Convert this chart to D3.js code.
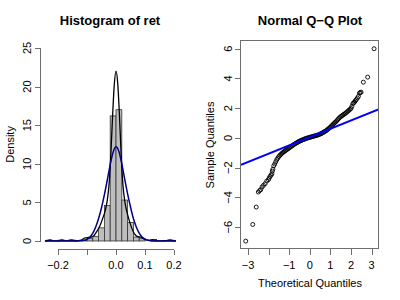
<!DOCTYPE html>
<html>
<head>
<meta charset="utf-8">
<script src="https://cdn.jsdelivr.net/npm/d3@7"></script>
<style>
    body { margin: 0; background: #fff; }
    svg { display: block; font-family: "Liberation Sans", Arial, sans-serif; }
    .axis-line { stroke: #6e6e6e; stroke-width: 1; fill: none; shape-rendering: crispEdges; }
</style>
</head>
<body>
<svg id="vis" width="400" height="300"></svg>
<script>
/**
 * Data
 */
// histogram of ret: bin edges and density per bin
var histBreaks = [-0.24, -0.22, -0.20, -0.18, -0.16, -0.14, -0.12, -0.10, -0.08, -0.06, -0.04, -0.02,
                  0.00, 0.02, 0.04, 0.06, 0.08, 0.10, 0.12, 0.14, 0.16, 0.18, 0.20];
var histDensity = [0.1, 0, 0.1, 0, 0.1, 0, 0.1, 0.3, 0.6, 1.7, 4.6, 16.2,
                   17.0, 5.3, 2.4, 0.5, 0.3, 0, 0.2, 0, 0, 0.1];

// kernel density line (black) as [ret, density]
var kdePoints = [[-0.245, 0], [-0.238, 0.03], [-0.228, 0.13], [-0.215, 0.02], [-0.2, 0.02], [-0.187, 0.13],
    [-0.172, 0.02], [-0.153, 0.13], [-0.138, 0.03], [-0.12, 0.12], [-0.107, 0.4], [-0.095, 0.45],
    [-0.085, 0.5], [-0.075, 0.75], [-0.065, 1.3], [-0.055, 2.0], [-0.046, 2.9], [-0.038, 3.8],
    [-0.03, 5.3], [-0.024, 7.3], [-0.018, 11], [-0.012, 16], [-0.006, 20.2], [0, 22],
    [0.006, 20.4], [0.012, 16.2], [0.018, 11], [0.024, 7.2], [0.03, 5.2], [0.038, 3.7],
    [0.046, 2.6], [0.055, 1.6], [0.065, 0.85], [0.075, 0.55], [0.085, 0.5], [0.095, 0.3],
    [0.105, 0.13], [0.115, 0.08], [0.127, 0.15], [0.14, 0.05], [0.155, 0.02], [0.17, 0.03],
    [0.186, 0.13], [0.2, 0.02], [0.207, 0]];

// fitted normal density (blue) as [ret, density]
var normPoints = [[-0.245, 0], [-0.14, 0], [-0.12, 0.04], [-0.11, 0.1], [-0.1, 0.22], [-0.09, 0.5],
    [-0.08, 1.0], [-0.07, 1.8], [-0.06, 2.9], [-0.05, 4.3], [-0.04, 6.0], [-0.03, 7.9],
    [-0.02, 9.9], [-0.01, 11.5], [0, 12.2], [0.01, 11.6], [0.02, 10.0], [0.03, 8.0],
    [0.04, 6.1], [0.05, 4.4], [0.06, 2.9], [0.07, 1.8], [0.08, 1.0], [0.09, 0.5],
    [0.1, 0.22], [0.11, 0.1], [0.12, 0.04], [0.14, 0], [0.207, 0]];

// normal Q-Q plot as [theoretical quantile, sample quantile]
var qqPoints = [[-3.11, -6.94], [-2.77, -5.82], [-2.6, -4.65], [-2.5, -3.64], [-2.44, -3.55],
    [-2.38, -3.48], [-2.32, -3.3], [-2.25, -3.19], [-2.17, -3.08], [-2.09, -2.9], [-2.01, -2.81],
    [-1.97, -2.7], [-1.93, -2.59], [-1.88, -2.5], [-1.84, -2.41], [-1.82, -2.23], [-1.79, -2.1],
    [-1.75, -1.88], [-1.70, -1.75], [-1.65, -1.60], [-1.60, -1.45], [-1.55, -1.35], [-1.50, -1.25],
    [-1.45, -1.17], [-1.40, -1.10], [-1.35, -1.03], [-1.30, -0.97], [-1.25, -0.92], [-1.20, -0.87],
    [-1.15, -0.82], [-1.10, -0.77], [-1.05, -0.72], [-1.00, -0.67], [-0.95, -0.62], [-0.90, -0.57],
    [-0.85, -0.52], [-0.80, -0.47], [-0.75, -0.42], [-0.70, -0.38], [-0.65, -0.34], [-0.60, -0.30],
    [-0.55, -0.26], [-0.50, -0.22], [-0.45, -0.19], [-0.40, -0.16], [-0.35, -0.13], [-0.30, -0.10],
    [-0.25, -0.07], [-0.20, -0.05], [-0.15, -0.02], [-0.10, 0.00], [-0.05, 0.02], [0.00, 0.04],
    [0.05, 0.06], [0.10, 0.08], [0.15, 0.10], [0.20, 0.12], [0.25, 0.14], [0.30, 0.16],
    [0.35, 0.18], [0.40, 0.20], [0.45, 0.23], [0.50, 0.26], [0.55, 0.29], [0.60, 0.33],
    [0.65, 0.37], [0.70, 0.41], [0.75, 0.45], [0.80, 0.50], [0.85, 0.55], [0.90, 0.61],
    [0.95, 0.67], [1.00, 0.73], [1.05, 0.80], [1.10, 0.87], [1.15, 0.94], [1.20, 1.01],
    [1.25, 1.07], [1.30, 1.14], [1.35, 1.22], [1.40, 1.30], [1.45, 1.37], [1.50, 1.43],
    [1.55, 1.48], [1.60, 1.53], [1.65, 1.58], [1.70, 1.63], [1.75, 1.68], [1.80, 1.74],
    [1.85, 1.80], [1.90, 1.86], [1.95, 1.92], [2.00, 1.98], [2.04, 2.12], [2.09, 2.3],
    [2.13, 2.36], [2.17, 2.41], [2.21, 2.5], [2.25, 2.57], [2.31, 2.68], [2.36, 2.79],
    [2.41, 3.01], [2.45, 3.05], [2.49, 3.08], [2.6, 3.75], [2.81, 4.09], [3.12, 6.0]];

// qqline: [intercept, slope]
var qqLineCoef = [0.06, 0.557];

// tick values and labels (R drops labels that would overlap)
var histXTicks = [-0.2, -0.1, 0.0, 0.1, 0.2];
var histXLabels = ["\u22120.2", "", "0.0", "0.1", "0.2"];
var histYTicks = [0, 5, 10, 15, 20, 25];
var qqXTicks = [-3, -2, -1, 0, 1, 2, 3];
var qqXLabels = ["\u22123", "", "\u22121", "0", "1", "2", "3"];
var qqYTicks = [-6, -4, -2, 0, 2, 4, 6];

var _vis;

window.onload = function(){
    setup();
};

function setup(){
    _vis = d3.select("#vis");
    _vis.append("rect").attr("width", 400).attr("height", 300).attr("fill", "#fff");
    drawHistogram();
    drawQQ();
}

// little helper for R style text
function addText(g, x, y, txt, size, bold, rotate){
    var t = g.append("text")
        .attr("text-anchor", "middle")
        .attr("font-size", size)
        .attr("font-weight", bold ? "bold" : "normal")
        .attr("fill", "#000")
        .text(txt);
    if (rotate) {
        t.attr("transform", "translate(" + x + "," + y + ") rotate(-90)");
    } else {
        t.attr("x", x).attr("y", y);
    }
    return t;
}

/**
 * left panel: histogram + density lines
 */
function drawHistogram(){
    var g = _vis.append("g").attr("class", "hist");

    var x = d3.scaleLinear().domain([-0.2586, 0.2172]).range([41, 179]);
    var y = d3.scaleLinear().domain([-1.04, 25.9]).range([249, 41]);

    var bins = histDensity.map(function(d, i){
        return {x0: histBreaks[i], x1: histBreaks[i + 1], h: d};
    });

    g.selectAll("rect.bar")
        .data(bins)
        .enter()
        .append("rect")
        .attr("class", "bar")
        .attr("x", function(d){ return x(d.x0); })
        .attr("y", function(d){ return y(d.h); })
        .attr("width", function(d){ return x(d.x1) - x(d.x0); })
        .attr("height", function(d){ return y(0) - y(d.h); })
        .attr("fill", "#bebebe")
        .attr("stroke", "#333")
        .attr("stroke-width", 0.8);

    var line = d3.line()
        .x(function(d){ return x(d[0]); })
        .y(function(d){ return y(d[1]); })
        .curve(d3.curveMonotoneX);

    g.append("path")
        .datum(kdePoints)
        .attr("d", line)
        .attr("fill", "none")
        .attr("stroke", "#000")
        .attr("stroke-width", 1.3);

    g.append("path")
        .datum(normPoints)
        .attr("d", line)
        .attr("fill", "none")
        .attr("stroke", "#00008b")
        .attr("stroke-width", 1.5);

    // x axis
    var xa = g.append("g").attr("class", "x axis");
    xa.append("line").attr("class", "axis-line")
        .attr("x1", x(histXTicks[0])).attr("x2", x(histXTicks[histXTicks.length - 1]))
        .attr("y1", 249.5).attr("y2", 249.5);
    histXTicks.forEach(function(v, i){
        var px = Math.round(x(v)) + 0.5;
        xa.append("line").attr("class", "axis-line")
            .attr("x1", px).attr("x2", px).attr("y1", 249.5).attr("y2", 255);
        addText(xa, x(v), 269, histXLabels[i], 11, false, false);
    });

    // y axis
    var ya = g.append("g").attr("class", "y axis");
    ya.append("line").attr("class", "axis-line")
        .attr("x1", 40.5).attr("x2", 40.5)
        .attr("y1", y(histYTicks[0])).attr("y2", y(histYTicks[histYTicks.length - 1]));
    histYTicks.forEach(function(v){
        var py = Math.round(y(v)) + 0.5;
        ya.append("line").attr("class", "axis-line")
            .attr("x1", 35).attr("x2", 40.5).attr("y1", py).attr("y2", py);
        addText(ya, 31, y(v), String(v), 11, false, true);
    });

    addText(g, 110, 25, "Histogram of ret", 13, true, false);
    addText(g, 14, y(12.5), "Density", 11, false, true);
}

/**
 * right panel: normal Q-Q plot
 */
function drawQQ(){
    var g = _vis.append("g").attr("class", "qq");

    var x = d3.scaleLinear().domain([-3.34, 3.36]).range([241, 379]);
    var y = d3.scaleLinear().domain([-7.47, 6.52]).range([249, 41]);

    g.selectAll("circle.pt")
        .data(qqPoints)
        .enter()
        .append("circle")
        .attr("class", "pt")
        .attr("cx", function(d){ return x(d[0]); })
        .attr("cy", function(d){ return y(d[1]); })
        .attr("r", 2)
        .attr("fill", "none")
        .attr("stroke", "#000")
        .attr("stroke-width", 0.9);

    // qqline clipped to the plot box
    g.append("clipPath").attr("id", "qqclip")
        .append("rect").attr("x", 241).attr("y", 41).attr("width", 138).attr("height", 208);
    var xd = x.domain();
    g.append("line")
        .attr("clip-path", "url(#qqclip)")
        .attr("x1", x(xd[0])).attr("y1", y(qqLineCoef[0] + qqLineCoef[1] * xd[0]))
        .attr("x2", x(xd[1])).attr("y2", y(qqLineCoef[0] + qqLineCoef[1] * xd[1]))
        .attr("stroke", "#0000ff")
        .attr("stroke-width", 2);

    // box
    g.append("rect").attr("class", "axis-line")
        .attr("x", 240.5).attr("y", 40.5).attr("width", 138).attr("height", 208);

    // x axis ticks
    qqXTicks.forEach(function(v, i){
        var px = Math.round(x(v)) + 0.5;
        g.append("line").attr("class", "axis-line")
            .attr("x1", px).attr("x2", px).attr("y1", 248.5).attr("y2", 255);
        addText(g, x(v), 269, qqXLabels[i], 11, false, false);
    });
    // y axis ticks
    qqYTicks.forEach(function(v){
        var py = Math.round(y(v)) + 0.5;
        g.append("line").attr("class", "axis-line")
            .attr("x1", 235).attr("x2", 240.5).attr("y1", py).attr("y2", py);
        addText(g, 232, y(v), String(v).replace("-", "\u2212"), 11, false, true);
    });

    addText(g, 310, 25, "Normal Q\u2212Q Plot", 13, true, false);
    addText(g, 310, 287, "Theoretical Quantiles", 11, false, false);
    addText(g, 214, 145, "Sample Quantiles", 11, false, true);
}
</script>
</body>
</html>
